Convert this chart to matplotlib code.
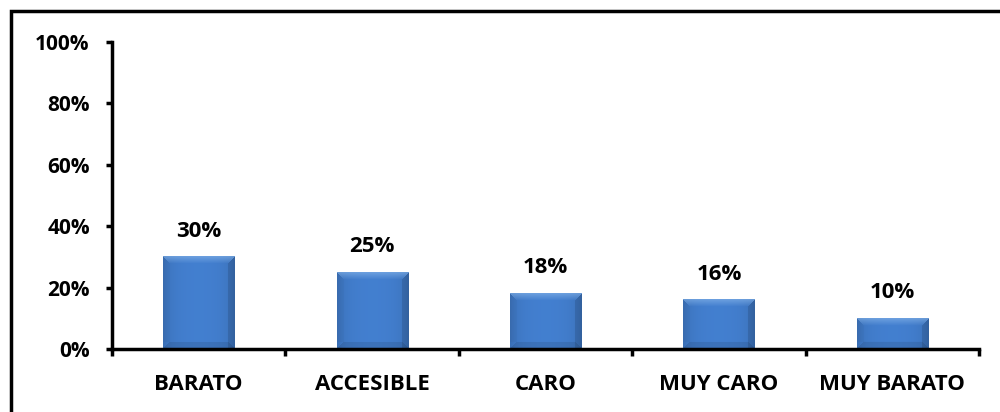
import numpy as np
import matplotlib.pyplot as plt
from matplotlib.patches import Rectangle

categories = ["BARATO", "ACCESIBLE", "CARO", "MUY CARO", "MUY BARATO"]
values = [30, 25, 18, 16, 10]
labels = ["30%", "25%", "18%", "16%", "10%"]
yticks = [0, 20, 40, 60, 80, 100]

plt.rcParams['font.family'] = ['Open Sans', 'DejaVu Sans']

fig = plt.figure(figsize=(10, 4.12), dpi=100)
ax = fig.add_axes([0.112, 0.153, 0.867, 0.745])

x = np.arange(len(categories))
bars = ax.bar(x, values, width=0.41, color='#3f78c4', zorder=2)

ax.set_xlim(-0.5, len(categories) - 0.5)
ax.set_ylim(0, 100)
ax.set_yticks(yticks)
ax.set_yticklabels([f"{t}%" for t in yticks], fontsize=15, fontweight='bold')
ax.set_xticks(x)
ax.set_xticklabels(categories, fontsize=16, fontweight='bold')
ax.set_xticks(np.arange(len(categories) + 1) - 0.5, minor=True)
ax.tick_params(axis='x', which='major', length=0, pad=18)
ax.tick_params(axis='x', which='minor', length=5, width=2.5, direction='out')
ax.tick_params(axis='y', length=4, width=2.5, direction='out', pad=12)
for s in ['top', 'right']:
    ax.spines[s].set_visible(False)
for s in ['left', 'bottom']:
    ax.spines[s].set_linewidth(2.5)
ax.spines['bottom'].set_zorder(5)

# gradient / bevel shading on the bars
fig.canvas.draw()
base = np.array([63, 120, 196]) / 255.0
light = np.array([140, 185, 235]) / 255.0
for b in bars:
    x0, y0 = b.get_x(), b.get_y()
    w, h = b.get_width(), b.get_height()
    p0 = ax.transData.transform((x0, y0))
    p1 = ax.transData.transform((x0 + w, y0 + h))
    wp = max(int(p1[0] - p0[0]), 2)
    hp = max(int(p1[1] - p0[1]), 2)
    cols = np.arange(wp)[None, :].repeat(hp, 0)
    rows = np.arange(hp)[:, None].repeat(wp, 1)  # 0 = top
    img = np.ones((hp, wp, 3)) * base
    u = cols / (wp - 1)
    shade = 1.0 + 0.06 * np.sin(np.pi * u) - 0.08 * (np.abs(u - 0.5) * 2) ** 6
    img = img * shade[..., None]
    bev = 7
    dist_side = np.minimum(cols, wp - 1 - cols)
    top = (rows < bev) & (rows <= dist_side)
    t = (1 - rows / bev)[..., None]
    img = np.where(top[..., None], img * (1 - 0.55 * t) + light * 0.55 * t, img)
    left = (cols < bev) & (cols < rows) & (rows < hp - bev)
    img[left] = img[left] * 0.97
    right = (wp - 1 - cols < bev) & (wp - 1 - cols < rows)
    img[right] = img[right] * 0.88
    bot = (hp - 1 - rows < bev) & (hp - 1 - rows <= dist_side)
    img[bot] = img[bot] * 0.9
    img = np.clip(img, 0, 1)
    ax.imshow(img, extent=(x0, x0 + w, y0, y0 + h), aspect='auto', zorder=3)

ax.set_xlim(-0.5, len(categories) - 0.5)
ax.set_ylim(0, 100)

for xi, v, lab in zip(x, values, labels):
    ax.text(xi, v + 5, lab, ha='center', va='bottom', fontsize=16, fontweight='bold')

frame = Rectangle((0.011, -0.1), 1.2, 1.073, transform=fig.transFigure,
                  fill=False, edgecolor='black', linewidth=2.5, clip_on=False)
fig.add_artist(frame)

fig.savefig('out.png', dpi=100)
